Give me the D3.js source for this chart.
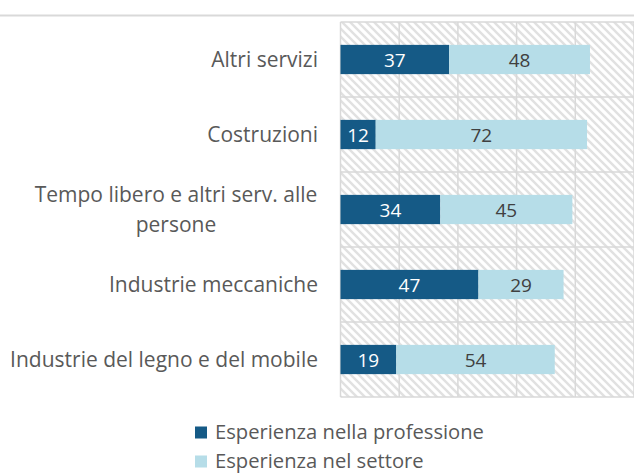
<!DOCTYPE html>
<html>
<head>
<meta charset="utf-8">
<script src="https://cdn.jsdelivr.net/npm/d3@7"></script>
<style>
  html, body { margin: 0; padding: 0; background: #fff; }
  svg { display: block; font-family: "Open Sans", sans-serif; }
</style>
</head>
<body>
<svg id="chart" width="634" height="475"></svg>
<script>
const categories = [
  ["Altri servizi"],
  ["Costruzioni"],
  ["Tempo libero e altri serv. alle", "persone"],
  ["Industrie meccaniche"],
  ["Industrie del legno e del mobile"]
];
const professione = [37, 12, 34, 47, 19];
const settore = [48, 72, 45, 29, 54];
const seriesNames = ["Esperienza nella professione", "Esperienza nel settore"];
const xTicks = [0, 20, 40, 60, 80, 100];

const DARK = "#155a86";
const LIGHT = "#b6dde8";
const GRID = "#d9d9d9";

const svg = d3.select("#chart");

// outer frame top edge
svg.append("line")
  .attr("x1", 0).attr("x2", 634)
  .attr("y1", 15.5).attr("y2", 15.5)
  .attr("stroke", GRID).attr("stroke-width", 2);

const plot = { left: 340.5, right: 634, top: 22, bottom: 397 };

const x = d3.scaleLinear().domain([0, 100]).range([plot.left, plot.right]);
const y = d3.scaleBand()
  .domain(d3.range(categories.length))
  .range([plot.top, plot.bottom])
  .paddingInner(0.61).paddingOuter(0.305);
const band = d3.scaleBand()
  .domain(d3.range(categories.length))
  .range([plot.top, plot.bottom]);

// hatched background
const defs = svg.append("defs");
const pat = defs.append("pattern")
  .attr("id", "hatch")
  .attr("patternUnits", "userSpaceOnUse")
  .attr("width", 8).attr("height", 8);
pat.append("rect").attr("width", 8).attr("height", 8).attr("fill", "#fff");
pat.append("path")
  .attr("d", "M-2,-2 L10,10 M-2,6 L2,10 M6,-2 L10,2")
  .attr("stroke", "#e1e1e1").attr("stroke-width", 2.4);

svg.append("rect")
  .attr("x", plot.left).attr("y", plot.top)
  .attr("width", plot.right - plot.left).attr("height", plot.bottom - plot.top)
  .attr("fill", "url(#hatch)");

// grid
const grid = svg.append("g");
grid.selectAll("line.v").data(xTicks).enter().append("line")
  .attr("x1", d => x(d)).attr("x2", d => x(d))
  .attr("y1", plot.top).attr("y2", plot.bottom)
  .attr("stroke", GRID).attr("stroke-width", 1.5);
grid.selectAll("line.h").data(d3.range(categories.length + 1)).enter().append("line")
  .attr("x1", plot.left).attr("x2", plot.right)
  .attr("y1", d => plot.top + d * band.step()).attr("y2", d => plot.top + d * band.step())
  .attr("stroke", GRID).attr("stroke-width", 1.5);

// bars
const rows = categories.map((c, i) => ({ i, a: professione[i], b: settore[i] }));
const bars = svg.append("g");
bars.selectAll("rect.a").data(rows).enter().append("rect")
  .attr("x", d => x(0)).attr("y", d => y(d.i))
  .attr("width", d => x(d.a) - x(0)).attr("height", y.bandwidth())
  .attr("fill", DARK);
bars.selectAll("rect.b").data(rows).enter().append("rect")
  .attr("x", d => x(d.a)).attr("y", d => y(d.i))
  .attr("width", d => x(d.a + d.b) - x(d.a)).attr("height", y.bandwidth())
  .attr("fill", LIGHT);

// data labels
bars.selectAll("text.a").data(rows).enter().append("text")
  .attr("x", d => (x(0) + x(d.a)) / 2)
  .attr("y", d => y(d.i) + y.bandwidth() / 2 + 7)
  .attr("text-anchor", "middle")
  .attr("font-size", 19).attr("fill", "#fff")
  .text(d => d.a);
bars.selectAll("text.b").data(rows).enter().append("text")
  .attr("x", d => (x(d.a) + x(d.a + d.b)) / 2)
  .attr("y", d => y(d.i) + y.bandwidth() / 2 + 7)
  .attr("text-anchor", "middle")
  .attr("font-size", 19).attr("fill", "#404040")
  .text(d => d.b);

// category labels
const labels = svg.append("g");
categories.forEach((lines, i) => {
  const cy = band(i) + band.bandwidth() / 2;
  const lh = 30;
  const t = labels.append("text")
    .attr("font-size", 21).attr("fill", "#595959")
    .attr("text-anchor", lines.length > 1 ? "middle" : "end");
  const xx = lines.length > 1 ? 176 : 318;
  lines.forEach((s, k) => {
    t.append("tspan")
      .attr("x", xx)
      .attr("y", cy + 7.3 + (k - (lines.length - 1) / 2) * lh)
      .text(s);
  });
});

// legend
const legend = svg.append("g");
seriesNames.forEach((s, k) => {
  const ly = 426.5 + k * 29;
  legend.append("rect")
    .attr("x", 195).attr("y", ly)
    .attr("width", 12).attr("height", 12)
    .attr("fill", k === 0 ? DARK : LIGHT);
  legend.append("text")
    .attr("x", 215).attr("y", ly + 12)
    .attr("font-size", 20.2).attr("fill", "#595959")
    .text(s);
});
</script>
</body>
</html>
